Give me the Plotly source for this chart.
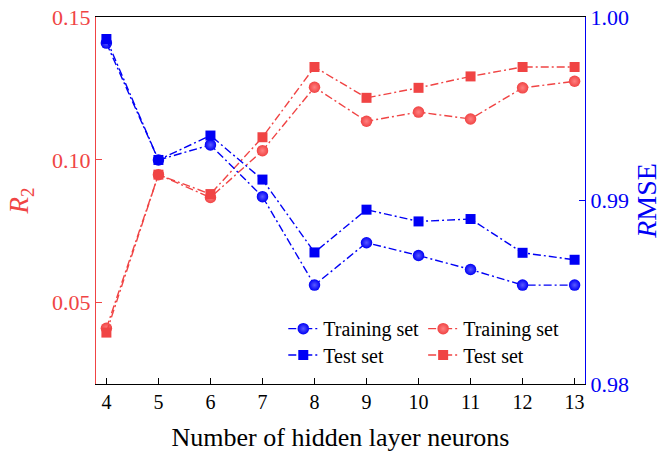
import plotly.graph_objects as go

neurons = [4, 5, 6, 7, 8, 9, 10, 11, 12, 13]

# R2 (left axis)
r2_train = [0.0410, 0.0948, 0.0868, 0.1032, 0.1254, 0.1135, 0.1167, 0.1143, 0.1252, 0.1275]
r2_test = [0.0395, 0.0948, 0.0880, 0.1079, 0.1325, 0.1217, 0.1252, 0.1292, 0.1325, 0.1325]

# RMSE (right axis)
rmse_train = [0.99858, 0.99221, 0.99303, 0.99021, 0.98539, 0.98770, 0.98700, 0.98624, 0.98539, 0.98539]
rmse_test = [0.99880, 0.99221, 0.99354, 0.99114, 0.98717, 0.98950, 0.98886, 0.98899, 0.98715, 0.98677]

RED = "#F04444"
BLUE = "#0000F5"
FONT = "Liberation Serif"
DASH = "8px,3px,2px,3px"

fig = go.Figure()

def circle_marker(color, shine):
    return dict(symbol="circle", size=11.5, color=color,
                gradient=dict(type="radial", color=shine),
                line=dict(width=0))

def square_marker(color):
    return dict(symbol="square", size=10, color=color, line=dict(width=0))

fig.add_trace(go.Scatter(
    x=neurons, y=rmse_train, yaxis="y2", name="Training set", legend="legend",
    mode="lines+markers", line=dict(color=BLUE, width=1.4, dash=DASH),
    marker=circle_marker(BLUE, "#5A5AFF")))
fig.add_trace(go.Scatter(
    x=neurons, y=rmse_test, yaxis="y2", name="Test set", legend="legend3",
    mode="lines+markers", line=dict(color=BLUE, width=1.4, dash=DASH),
    marker=square_marker(BLUE)))
fig.add_trace(go.Scatter(
    x=neurons, y=r2_train, yaxis="y", name="Training set", legend="legend2",
    mode="lines+markers", line=dict(color=RED, width=1.4, dash=DASH),
    marker=circle_marker(RED, "#FF8080")))
fig.add_trace(go.Scatter(
    x=neurons, y=r2_test, yaxis="y", name="Test set", legend="legend4",
    mode="lines+markers", line=dict(color=RED, width=1.4, dash=DASH),
    marker=square_marker(RED)))

legend_common = dict(
    bgcolor="rgba(0,0,0,0)", borderwidth=0,
    font=dict(family=FONT, size=20, color="black"),
    yanchor="top", xanchor="left",
    itemwidth=30, tracegroupgap=0,
)
ROW1, ROW2 = 0.204, 0.132
COL1, COL2 = 0.383, 0.669

fig.update_layout(
    width=662, height=456,
    margin=dict(l=96, r=77, t=17, b=72),
    paper_bgcolor="white", plot_bgcolor="white",
    font=dict(family=FONT, color="black"),
    showlegend=True,
    legend=dict(x=COL1, y=ROW1, **legend_common),
    legend2=dict(x=COL2, y=ROW1, **legend_common),
    legend3=dict(x=COL1, y=ROW2, **legend_common),
    legend4=dict(x=COL2, y=ROW2, **legend_common),
    xaxis=dict(
        range=[3.8, 13.2], tickmode="array", tickvals=neurons,
        ticks="inside", ticklen=6, tickwidth=1, tickcolor="black",
        showline=True, linecolor="black", linewidth=1.2, mirror=True,
        showgrid=False, zeroline=False, automargin=False,
        tickfont=dict(family=FONT, size=20, color="black"),
        title=dict(text="Number of hidden layer neurons",
                   font=dict(family=FONT, size=26, color="black")),
    ),
    yaxis=dict(
        range=[0.0215, 0.15], tickvals=[0.05, 0.10, 0.15], ticktext=["0.05", "0.10", "0.15"],
        ticks="inside", ticklen=6, tickwidth=1, tickcolor=RED,
        showline=True, linecolor=RED, linewidth=1.2,
        showgrid=False, zeroline=False, automargin=False,
        tickfont=dict(family=FONT, size=22, color=RED),
        title=dict(text="<i>R</i><sub>2</sub>", font=dict(family=FONT, size=27, color=RED)),
    ),
    yaxis2=dict(
        range=[0.98, 1.00], tickvals=[0.98, 0.99, 1.00], ticktext=["0.98", "0.99", "1.00"],
        overlaying="y", side="right",
        ticks="inside", ticklen=6, tickwidth=1, tickcolor=BLUE,
        showline=True, linecolor=BLUE, linewidth=1.2,
        showgrid=False, zeroline=False, automargin=False,
        tickfont=dict(family=FONT, size=22, color=BLUE),
        title=dict(text="<i>R</i>MSE", font=dict(family=FONT, size=28, color=BLUE)),
    ),
)

fig.write_html("out.html")
